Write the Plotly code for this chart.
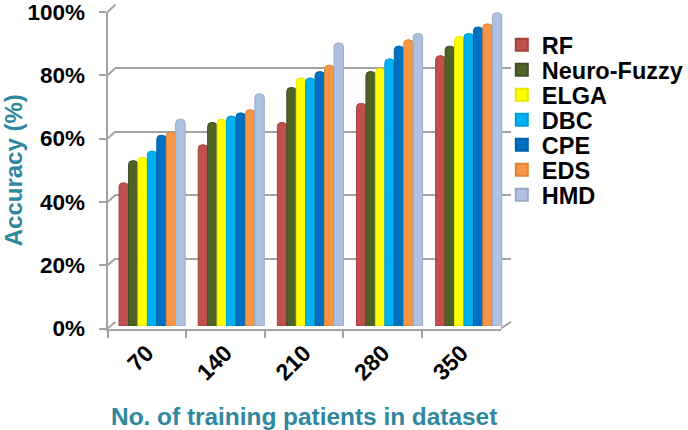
import plotly.graph_objects as go

W, H = 688, 430
categories = ["70", "140", "210", "280", "350"]
series_names = ["RF", "Neuro-Fuzzy", "ELGA", "DBC", "CPE", "EDS", "HMD"]
rf = [45, 57, 64, 70, 85]
neuro_fuzzy = [52, 64, 75, 80, 88]
elga = [53, 65, 78, 81, 91]
dbc = [55, 66, 78, 84, 92]
cpe = [60, 67, 80, 88, 94]
eds = [61, 68, 82, 90, 95]
hmd = [65, 73, 89, 92, 98.5]
series_values = [rf, neuro_fuzzy, elga, dbc, cpe, eds, hmd]
colors = ["#C0504D", "#4F6228", "#FFFF00", "#00B0F0", "#0070C0", "#F79646", "#AFC1E0"]
edges = ["#A8413E", "#414F20", "#E6E600", "#009CD6", "#0061A8", "#DE8338", "#98A9C8"]
y_ticks = [0, 20, 40, 60, 80, 100]
y_labels = ["0%", "20%", "40%", "60%", "80%", "100%"]
GRID = "#A3A3A3"
TEAL = "#2F87A0"
FONT = "Liberation Sans"


def xd(a, b):
    return [a / W, b / W]


def yd(bottom, top):
    return [1 - bottom / H, 1 - top / H]


fig = go.Figure()
for i, (name, vals) in enumerate(zip(series_names, series_values)):
    lg = "legend" if i == 0 else f"legend{i + 1}"
    # the bars themselves, with rounded tops
    fig.add_trace(go.Bar(
        x=categories, y=vals, name=name, xaxis="x3", yaxis="y3", showlegend=False,
        legendgroup=name,
        marker=dict(color=colors[i], cornerradius=4, line=dict(color=edges[i], width=1)),
    ))
    # square legend key on the front axes
    fig.add_trace(go.Bar(
        x=categories, y=[None] * len(categories), name=name, xaxis="x", yaxis="y", legend=lg,
        legendgroup=name, hoverinfo="skip",
        marker=dict(color=colors[i], line=dict(color=edges[i], width=2)),
    ))

layout = dict(
    width=W, height=H, margin=dict(l=0, r=0, t=0, b=0, pad=0),
    paper_bgcolor="white", plot_bgcolor="rgba(0,0,0,0)",
    barmode="group", bargap=0.165, bargroupgap=0,
    font=dict(family=FONT, color="black"),
    # front axes: lines, ticks, labels
    xaxis=dict(domain=xd(108, 503), anchor="y", type="category", categoryorder="array",
               categoryarray=categories, tickmode="array", tickvals=categories, ticktext=categories,
               range=[-0.5, 4.5], showgrid=False, showline=True, linecolor=GRID, linewidth=2,
               ticks="outside", tickson="boundaries", ticklen=7, tickcolor=GRID, tickwidth=2,
               automargin=False, tickangle=-45, tickfont=dict(size=23, family=FONT, weight="bold"),
               title=dict(text="<b>No. of training patients in dataset</b>",
                          font=dict(size=24.4, color=TEAL, family=FONT), standoff=27)),
    yaxis=dict(domain=yd(328.5, 12), anchor="x", range=[0, 100], tickmode="array",
               tickvals=y_ticks, ticktext=y_labels, showgrid=False, zeroline=False,
               showline=True, linecolor=GRID, linewidth=2, ticks="outside", ticklen=7,
               automargin=False, tickcolor=GRID, tickwidth=2, ticklabelstandoff=9,
               ticklabeloverflow="allow",
               tickfont=dict(size=22.5, family=FONT, weight="bold"),
               title=dict(text="<b>Accuracy (%)</b>",
                          font=dict(size=24, color=TEAL, family=FONT), standoff=3)),
    # back wall: gridlines only
    xaxis2=dict(domain=xd(116, 513), anchor="y2", visible=False, range=[0, 1], automargin=False),
    yaxis2=dict(domain=yd(322, 4.5), anchor="x2", range=[0, 100], tickmode="array",
                tickvals=y_ticks, showgrid=True, gridcolor=GRID, gridwidth=2, zeroline=False,
                showline=False, ticks="", showticklabels=False, automargin=False),
    # bars
    xaxis3=dict(domain=xd(113, 510.5), anchor="y3", visible=False,
                type="category", range=[-0.5, 4.5], automargin=False),
    yaxis3=dict(domain=yd(326, 8), anchor="x3", range=[0, 100], visible=False,
                automargin=False),
    showlegend=True,
)
for i in range(len(series_names)):
    key = "legend" if i == 0 else f"legend{i + 1}"
    layout[key] = dict(x=504 / W, xref="paper", xanchor="left", y=1 - (45 + 25 * i) / H,
                       yref="paper", yanchor="middle", bgcolor="rgba(0,0,0,0)",
                       font=dict(size=23.5, family=FONT, weight="bold", color="black"))
fig.update_layout(**layout)
fig.add_trace(go.Scatter(x=[0, 1], y=[0, 0], xaxis="x2", yaxis="y2", mode="lines",
                         line=dict(color="rgba(0,0,0,0)"), showlegend=False, hoverinfo="skip"))
# depth connectors from the front axis to the back wall
for t in y_ticks:
    f = t / 100
    fig.add_shape(type="line", xref="paper", yref="paper",
                  x0=108 / W, x1=116 / W,
                  y0=1 - (328.5 - 316.5 * f) / H, y1=1 - (322 - 317.5 * f) / H,
                  line=dict(color=GRID, width=2), layer="below")
fig.add_shape(type="line", xref="paper", yref="paper", x0=503 / W, x1=513 / W,
              y0=1 - 328.5 / H, y1=1 - 322 / H, line=dict(color=GRID, width=2), layer="below")
fig.write_html("out.html", config=dict(displayModeBar=False),
               post_script="document.body.style.margin='0';document.documentElement.style.overflow='hidden';")
